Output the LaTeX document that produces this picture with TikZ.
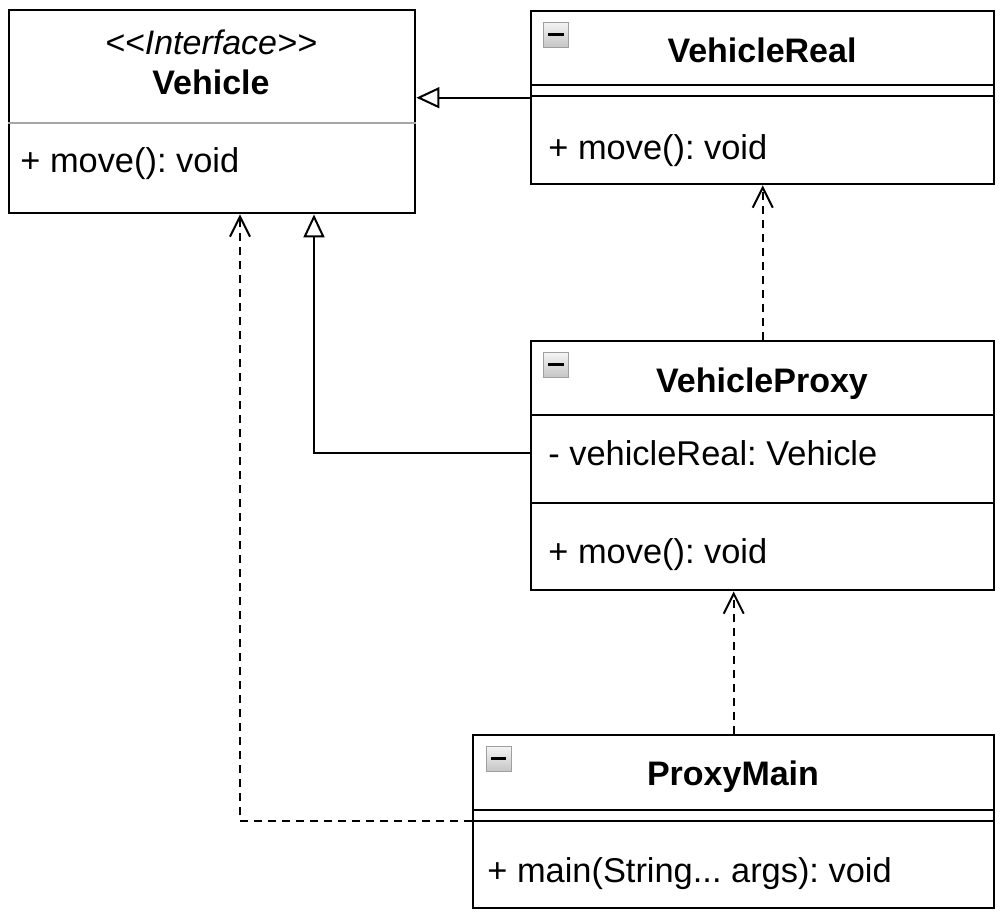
\documentclass[tikz,border=0pt]{standalone}
\usepackage{fontspec}
\setmainfont{Liberation Sans}
\usetikzlibrary{arrows.meta}
\frenchspacing

\begin{document}
\begin{tikzpicture}[x=0.5pt, y=-0.5pt,
    cls/.style={draw, line width=1.2pt, anchor=north west, inner sep=0pt},
    sep/.style={line width=1.2pt},
    title/.style={anchor=base, inner sep=0pt, font=\fontsize{17}{20}\selectfont\bfseries},
    member/.style={anchor=base west, inner sep=0pt, font=\fontsize{17.2}{20}\selectfont},
    icon/.style={draw=gray!75, top color=gray!8, bottom color=gray!45, minimum size=12.5pt, inner sep=0pt,
        path picture={\fill[black] ([xshift=2.3pt, yshift=-0.65pt]path picture bounding box.west) rectangle ([xshift=-2.3pt, yshift=0.65pt]path picture bounding box.east);}},
    gen/.style={line width=1pt, -{Triangle[open, length=11.5pt, width=10.5pt]}},
    dep/.style={line width=1pt, dash pattern=on 4pt off 3pt, -{Straight Barb[length=10pt, width=10pt]}}]
    \useasboundingbox (0,0) rectangle (1002,918);

    \node[cls, minimum width=203pt, minimum height=101.5pt] (veh) at (8,9) {};
    \draw[sep, gray!70] (veh.west |- 0,123) -- (veh.east |- 0,123);
    \node[title, font=\fontsize{17}{20}\selectfont\itshape] (vehStereo) at (211,54) {<\kern0pt<Interface>\kern0pt>};
    \node[title] (vehName) at (211,94) {Vehicle};
    \node[member] (vehMove) at (20,172) {+ move(): void};

    \node[cls, minimum width=231.5pt, minimum height=86.5pt] (real) at (530,10) {};
    \draw[sep] (real.west |- 0,85) -- (real.east |- 0,85);
    \draw[sep] (real.west |- 0,96) -- (real.east |- 0,96);
    \node[icon] (realIcon) at (556,34.5) {};
    \node[title] (realName) at (762,62) {VehicleReal};
    \node[member] (realMove) at (548,159) {+ move(): void};

    \node[cls, minimum width=231.5pt, minimum height=124.5pt] (proxy) at (530,340) {};
    \draw[sep] (proxy.west |- 0,415) -- (proxy.east |- 0,415);
    \draw[sep] (proxy.west |- 0,503) -- (proxy.east |- 0,503);
    \node[icon] (proxyIcon) at (556,364.5) {};
    \node[title] (proxyName) at (762,392) {VehicleProxy};
    \node[member] (proxyReal) at (548,465) {- vehicleReal: Vehicle};
    \node[member] (proxyMove) at (548,563) {+ move(): void};

    \node[cls, minimum width=260.5pt, minimum height=86.5pt] (main) at (472,734) {};
    \draw[sep] (main.west |- 0,810) -- (main.east |- 0,810);
    \draw[sep] (main.west |- 0,821) -- (main.east |- 0,821);
    \node[icon] (mainIcon) at (498.5,758.5) {};
    \node[title] (mainName) at (733,785) {ProxyMain};
    \node[member] (mainRun) at (487,882) {+ main(String... args): void};

    \draw[gen] (real.west) -- (real.west -| veh.east);
    \draw[gen] (proxy.west |- 0,453) -| (314,0 |- veh.south);
    \draw[dep] (proxy.north) -- (real.south);
    \draw[dep] (main.north) -- (main.north |- proxy.south);
    \draw[dep] (main.west |- 0,821) -| (240,0 |- veh.south);
\end{tikzpicture}
\end{document}
